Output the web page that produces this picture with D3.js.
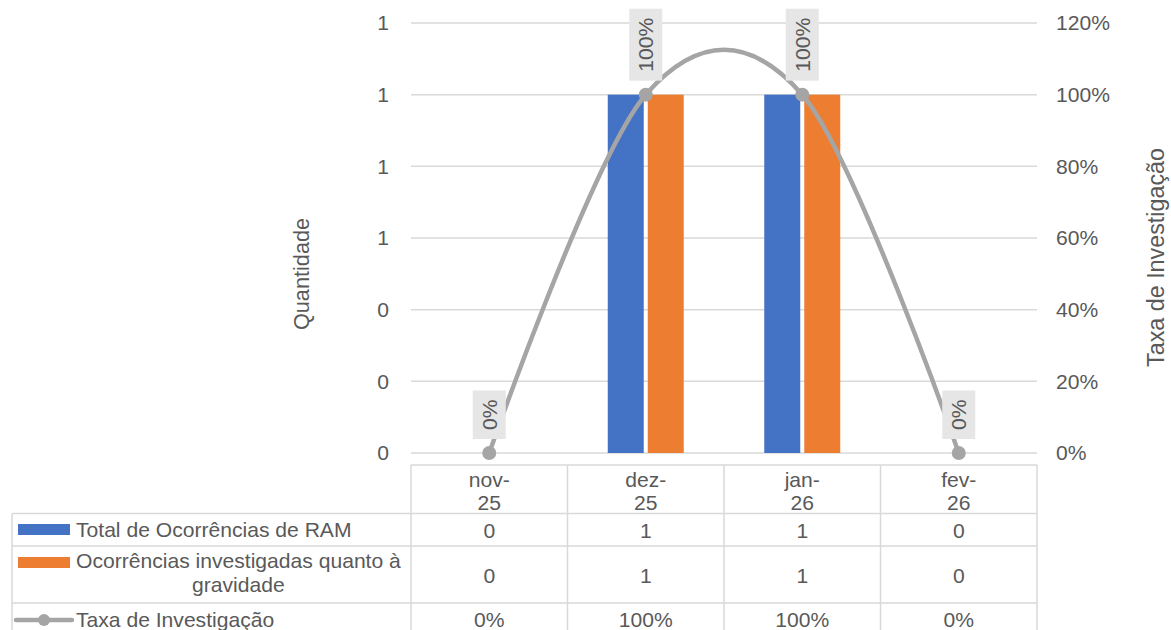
<!DOCTYPE html>
<html><head><meta charset="utf-8">
<script src="https://cdn.jsdelivr.net/npm/d3@7"></script>
<style>body{margin:0;background:#fff;overflow:hidden} text{font-family:"Liberation Sans",Arial,sans-serif;fill:#595959}</style>
</head><body><svg id="c" width="1171" height="630"></svg>
<script>
const categories = ["nov-25","dez-25","jan-26","fev-26"];
const totalRAM = [0,1,1,0];
const investigadas = [0,1,1,0];
const taxa = [0,1,1,0];
const seriesNames = ["Total de Ocorrências de RAM","Ocorrências investigadas quanto à","gravidade","Taxa de Investigação"];
const leftTicks = [0,0.2,0.4,0.6,0.8,1.0,1.2];
const rightTicks = [0,0.2,0.4,0.6,0.8,1.0,1.2];
const colors = {blue:"#4472C4", orange:"#ED7D31", gray:"#A5A5A5", grid:"#D9D9D9"};

const svg = d3.select("#c");
const L = 411, R = 1037, T = 23, B = 453;
const FS = 21.1;

const x = d3.scaleBand().domain(categories).range([L, R]);
const y = d3.scaleLinear().domain([0, 1.2]).range([B, T]);
const yR = d3.scaleLinear().domain([0, 1.2]).range([B, T]);
const groupW = 76;
const x1 = d3.scaleBand().domain([0,1]).range([0, groupW]).paddingInner(0.1);

// gridlines
svg.append("g").selectAll("line").data(leftTicks).join("line")
  .attr("x1", L).attr("x2", R).attr("y1", d => y(d)).attr("y2", d => y(d))
  .attr("stroke", colors.grid).attr("stroke-width", 1.5);

// left axis labels
const fmtL = d3.format(".0f");
svg.append("g").selectAll("text").data(leftTicks).join("text")
  .attr("x", 389).attr("y", d => y(d)).attr("dy", "0.35em")
  .attr("text-anchor", "end").attr("font-size", FS).text(d => fmtL(d));

// right axis labels
const fmtP = d3.format(".0%");
svg.append("g").selectAll("text").data(rightTicks).join("text")
  .attr("x", 1056).attr("y", d => yR(d)).attr("dy", "0.35em")
  .attr("text-anchor", "start").attr("font-size", FS).text(d => fmtP(d));

// axis titles
svg.append("text").attr("transform", "translate(308.5,274) rotate(-90)")
  .attr("text-anchor", "middle").attr("font-size", 21.7).text("Quantidade");
svg.append("text").attr("transform", "translate(1164,257.5) rotate(-90)")
  .attr("text-anchor", "middle").attr("font-size", 23.3).text("Taxa de Investigação");

// bars
const series = [{vals: totalRAM, c: colors.blue}, {vals: investigadas, c: colors.orange}];
series.forEach((s, si) => {
  svg.append("g").selectAll("rect").data(categories).join("rect")
    .attr("x", (d) => x(d) + x.bandwidth()/2 - groupW/2 + x1(si))
    .attr("width", x1.bandwidth())
    .attr("y", (d, i) => y(s.vals[i]))
    .attr("height", (d, i) => y(0) - y(s.vals[i]))
    .attr("fill", s.c);
});

// line
const pts = categories.map((c, i) => [x(c) + x.bandwidth()/2, yR(taxa[i])]);
svg.append("path").datum(pts)
  .attr("d", d3.line().curve(d3.curveCardinal.tension(0)))
  .attr("fill", "none").attr("stroke", colors.gray).attr("stroke-width", 4.5)
  .attr("stroke-linecap", "round");
svg.append("g").selectAll("circle").data(pts).join("circle")
  .attr("cx", d => d[0]).attr("cy", d => d[1]).attr("r", 7).attr("fill", colors.gray);

// data labels
const lbl = svg.append("g");
pts.forEach((p, i) => {
  const g = lbl.append("g").attr("transform", `translate(${p[0]},${p[1] - 14}) rotate(-90)`);
  const t = g.append("text").attr("x", 0).attr("y", 0).attr("dy", "0.35em")
    .attr("font-size", FS).attr("text-anchor", "start").text(fmtP(taxa[i]));
  const w = t.node().getComputedTextLength();
  const pad = 9;
  g.insert("rect", "text").attr("x", 0).attr("y", -16.5).attr("width", w + 2*pad).attr("height", 33)
    .attr("fill", "#E7E6E6");
  t.attr("x", pad);
});

// data table
const tb = svg.append("g");
const rowY = [465, 513.5, 546, 603, 660];
const colX = categories.map(c => x(c)).concat([R]);
const gl = (x1_, y1_, x2_, y2_) => tb.append("line").attr("x1", x1_).attr("y1", y1_).attr("x2", x2_).attr("y2", y2_)
  .attr("stroke", colors.grid).attr("stroke-width", 1.5);
gl(L, rowY[0], R, rowY[0]);
[1,2,3].forEach(k => gl(12, rowY[k], R, rowY[k]));
colX.forEach(cx => gl(cx, rowY[0], cx, 630));
gl(12, rowY[1], 12, 630);

// header
categories.forEach(c => {
  const [a, b] = c.split("-");
  const cx = x(c) + x.bandwidth()/2;
  tb.append("text").attr("x", cx).attr("y", 487).attr("text-anchor", "middle").attr("font-size", FS).text(a + "-");
  tb.append("text").attr("x", cx).attr("y", 510).attr("text-anchor", "middle").attr("font-size", FS).text(b);
});
const rows = [{vals: totalRAM, f: d3.format("d"), yb: 538}, {vals: investigadas, f: d3.format("d"), yb: 583}, {vals: taxa, f: fmtP, yb: 627}];
rows.forEach(r => {
  categories.forEach((c, i) => {
    tb.append("text").attr("x", x(c) + x.bandwidth()/2).attr("y", r.yb).attr("text-anchor", "middle")
      .attr("font-size", FS).text(r.f(r.vals[i]));
  });
});

// legend keys / row headers
tb.append("rect").attr("x", 18).attr("y", 524).attr("width", 52).attr("height", 11).attr("fill", colors.blue);
tb.append("text").attr("x", 76).attr("y", 537).attr("font-size", FS).text(seriesNames[0]);
tb.append("rect").attr("x", 18).attr("y", 557).attr("width", 52).attr("height", 11).attr("fill", colors.orange);
const t2 = tb.append("text").attr("x", 76).attr("y", 568).attr("font-size", FS).text(seriesNames[1]);
const w2 = t2.node().getComputedTextLength();
tb.append("text").attr("x", 76 + w2/2).attr("y", 592).attr("text-anchor", "middle").attr("font-size", FS).text(seriesNames[2]);
tb.append("line").attr("x1", 16).attr("x2", 72).attr("y1", 620).attr("y2", 620).attr("stroke", colors.gray).attr("stroke-width", 4.5).attr("stroke-linecap", "round");
tb.append("circle").attr("cx", 44).attr("cy", 620).attr("r", 6).attr("fill", colors.gray);
tb.append("text").attr("x", 76).attr("y", 627).attr("font-size", FS).text(seriesNames[3]);
</script></body></html>
